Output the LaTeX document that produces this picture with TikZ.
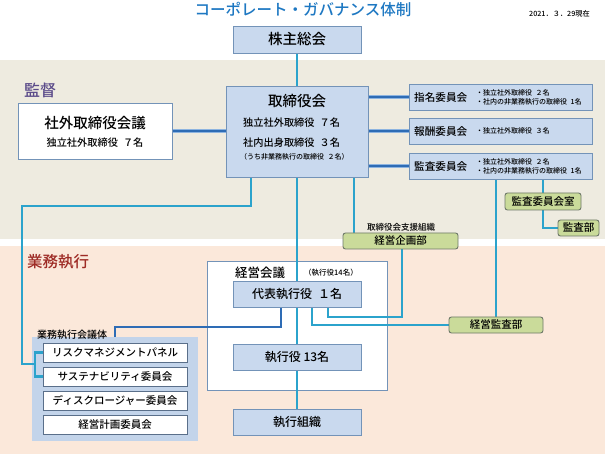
\documentclass[tikz,border=0pt]{standalone}
\usepackage{fontspec}
\setmainfont{Noto Sans CJK JP}[UprightFont={* Medium}]
\definecolor{boxc}{HTML}{C9D9EE}
\definecolor{bordc}{HTML}{7393B8}
\definecolor{beigec}{HTML}{EEEBE0}
\definecolor{peachc}{HTML}{FBE8DA}
\definecolor{cyanc}{HTML}{2BA3CC}
\definecolor{darkbl}{HTML}{2E6CB5}
\definecolor{lightbl}{HTML}{8DB4E0}
\definecolor{greenc}{HTML}{CADB9A}
\definecolor{gbord}{HTML}{6D7868}
\definecolor{titlec}{HTML}{1E78C2}
\definecolor{purplec}{HTML}{5B4B8A}
\definecolor{redc}{HTML}{9E2B25}
\definecolor{groupc}{HTML}{C3D4EA}
\definecolor{innerb}{HTML}{5A6F8A}
\newcommand\fsz[1]{\fontsize{#1}{#1}\selectfont}
\newcommand\hsp{\hspace{0.5em}}
\pgfdeclarelayer{bg}
\pgfdeclarelayer{lines}
\pgfsetlayers{bg,lines,main}
\begin{document}
\begin{tikzpicture}[x=1pt,y=-1pt,
  txt/.style={inner sep=0pt},
  box/.style={rectangle, draw=bordc, fill=boxc, line width=0.9pt, inner sep=0pt},
  wbox/.style={rectangle, draw=bordc, fill=white, line width=0.8pt, inner sep=0pt},
  ibox/.style={rectangle, draw=innerb, fill=white, line width=0.8pt, inner sep=0pt, minimum width=144pt, minimum height=19pt, font=\fsz{10.5}},
  gbox/.style={rectangle, rounded corners=2.5pt, draw=gbord, fill=greenc, line width=0.9pt, inner sep=0pt, font=\fsz{10.5}},
  cline/.style={draw=cyanc, line width=2.6pt},
  dline/.style={draw=darkbl, line width=2pt},
  tline/.style={draw=lightbl, double=darkbl, double distance=2.2pt, line width=0.7pt}
]
\useasboundingbox (0,0) rectangle (605,454);
\begin{pgfonlayer}{bg}
\fill[beigec] (0,60) rectangle (605,239);
\fill[peachc] (0,246) rectangle (605,454);
\node[wbox, minimum width=180pt, minimum height=129pt] (kaigi) at (297,325.5) {};
\node[rectangle, fill=groupc, inner sep=0pt, minimum width=166pt, minimum height=104pt] (group) at (115,389) {};
\end{pgfonlayer}

% title and date
\node[txt, text=titlec, font=\fsz{15.5}] (title) at (303,10) {コーポレート・ガバナンス体制};
\node[txt, anchor=east, font=\fsz{7.2}] (date) at (590,13.5) {2021．３．29現在};

% band labels
\node[txt, anchor=west, text=purplec, font=\fsz{16}] (kantoku) at (24,90) {監督};
\node[txt, anchor=west, text=redc, font=\fsz{15.5}] (gyomu) at (27,262) {業務執行};

% supervision
\node[box, minimum width=128pt, minimum height=27pt, font=\fsz{14.5}] (kabu) at (297,39.5) {株主総会};
\node[box, minimum width=142pt, minimum height=91pt] (tori) at (297,131.5) {};
\node[txt, font=\fsz{14.5}] (toriT) at (297,101) {取締役会};
\node[txt, anchor=west, font=\fsz{10.2}] (toriA) at (243,123) {独立社外取締役\hsp ７名};
\node[txt, anchor=west, font=\fsz{10.2}] (toriB) at (243,143) {社内出身取締役\hsp ３名};
\node[txt, anchor=west, font=\fsz{7}] (toriC) at (240,157) {（うち非業務執行の取締役\hsp ２名）};

\node[wbox, minimum width=154pt, minimum height=56pt] (shagai) at (95,131) {};
\node[txt, font=\fsz{14.5}] (shagaiT) at (95,123) {社外取締役会議};
\node[txt, font=\fsz{10.2}] (shagaiA) at (95,143) {独立社外取締役\hsp ７名};

\node[box, minimum width=183pt, minimum height=26pt] (shimei) at (500.5,97) {};
\node[txt, anchor=west, font=\fsz{10.6}] (shimeiT) at (414,97) {指名委員会};
\node[txt, anchor=west, font=\fsz{7}] (shimeiA) at (476,92.5) {・独立社外取締役\hsp ２名};
\node[txt, anchor=west, font=\fsz{7}] (shimeiB) at (476,102) {・社内の非業務執行の取締役\hsp 1名};

\node[box, minimum width=183pt, minimum height=26pt] (hoshu) at (500.5,131) {};
\node[txt, anchor=west, font=\fsz{10.6}] (hoshuT) at (414,131) {報酬委員会};
\node[txt, anchor=west, font=\fsz{7}] (hoshuA) at (476,131) {・独立社外取締役\hsp ３名};

\node[box, minimum width=183pt, minimum height=26pt] (kansa) at (500.5,166) {};
\node[txt, anchor=west, font=\fsz{10.6}] (kansaT) at (414,166) {監査委員会};
\node[txt, anchor=west, font=\fsz{7}] (kansaA) at (476,161.5) {・独立社外取締役\hsp ２名};
\node[txt, anchor=west, font=\fsz{7}] (kansaB) at (476,170.5) {・社内の非業務執行の取締役\hsp 1名};

\node[gbox, minimum width=76pt, minimum height=17pt] (shitsu) at (543,201.5) {監査委員会室};
\node[gbox, minimum width=41pt, minimum height=16pt] (kansabu) at (578.5,228) {監査部};
\node[txt, font=\fsz{8.5}] (shien) at (401,227) {取締役会支援組織};
\node[gbox, minimum width=115pt, minimum height=16pt] (kikaku) at (400.5,241) {経営企画部};

% execution
\node[txt, anchor=west, font=\fsz{12.5}] (kaigiT) at (235,273) {経営会議};
\node[txt, anchor=west, font=\fsz{7.5}] (kaigiA) at (304,273) {（執行役14名）};
\node[box, minimum width=128pt, minimum height=26pt, font=\fsz{12}] (daihyo) at (297,294) {代表執行役\hsp １名};
\node[box, minimum width=128pt, minimum height=26pt, font=\fsz{12}] (shikko) at (297,357) {執行役 13名};
\node[box, minimum width=128pt, minimum height=26pt, font=\fsz{12}] (soshiki) at (297,422) {執行組織};
\node[gbox, minimum width=94pt, minimum height=16pt] (keikan) at (496,325) {経営監査部};

\node[txt, anchor=west, font=\fsz{10}] (groupT) at (37,334.5) {業務執行会議体};
\node[ibox] (risk) at (115,352.5) {リスクマネジメントパネル};
\node[ibox] (sus) at (115,376.5) {サステナビリティ委員会};
\node[ibox] (disc) at (115,400.5) {ディスクロージャー委員会};
\node[ibox] (keikaku) at (115,424.5) {経営計画委員会};

% connectors
\begin{pgfonlayer}{lines}
\draw[cline] (kabu.south) -- (tori.north);
\draw[cline] (tori.south) -- (daihyo.north);
\draw[cline] (daihyo.south) -- (shikko.north);
\draw[cline] (shikko.south) -- (soshiki.north);
\draw[tline] (shagai.east) -- (shagai.east -| tori.west);
\draw[tline] (shimei.west -| tori.east) -- (shimei.west);
\draw[tline] (hoshu.west -| tori.east) -- (hoshu.west);
\draw[tline] (kansa.west -| tori.east) -- (kansa.west);
\coordinate (p1) at (251,206);
\coordinate (p2) at (22,206);
\coordinate (p3) at (22,364);
\coordinate (p4) at (35,364);
\draw[cline] (tori.south -| p1) -- (p1) -- (p2) -- (p3) -- (p4);
\draw[cline] (risk.west) -| (p4) |- (sus.west);
\coordinate (k1) at (354,0);
\draw[cline] (tori.south -| k1) -- (kikaku.north -| k1);
\draw[cline] (kansa.south -| keikan.north) -- (keikan.north);
\draw[cline] (kansa.south -| shitsu.north) -- (shitsu.north);
\draw[cline] (shitsu.south) |- (kansabu.west);
\coordinate (k4) at (402,317);
\coordinate (k5) at (328,317);
\draw[cline] (kikaku.south -| k4) -- (k4) -- (k5) -- (daihyo.south -| k5);
\coordinate (k6) at (312,326);
\draw[cline] (keikan.west) -- (keikan.west -| k6) -- (daihyo.south -| k6);
\coordinate (g1) at (281,327);
\coordinate (g2) at (115,327);
\draw[dline] (daihyo.south -| g1) -- (g1) -- (g2) -- (group.north);
\end{pgfonlayer}
\end{tikzpicture}
\end{document}
